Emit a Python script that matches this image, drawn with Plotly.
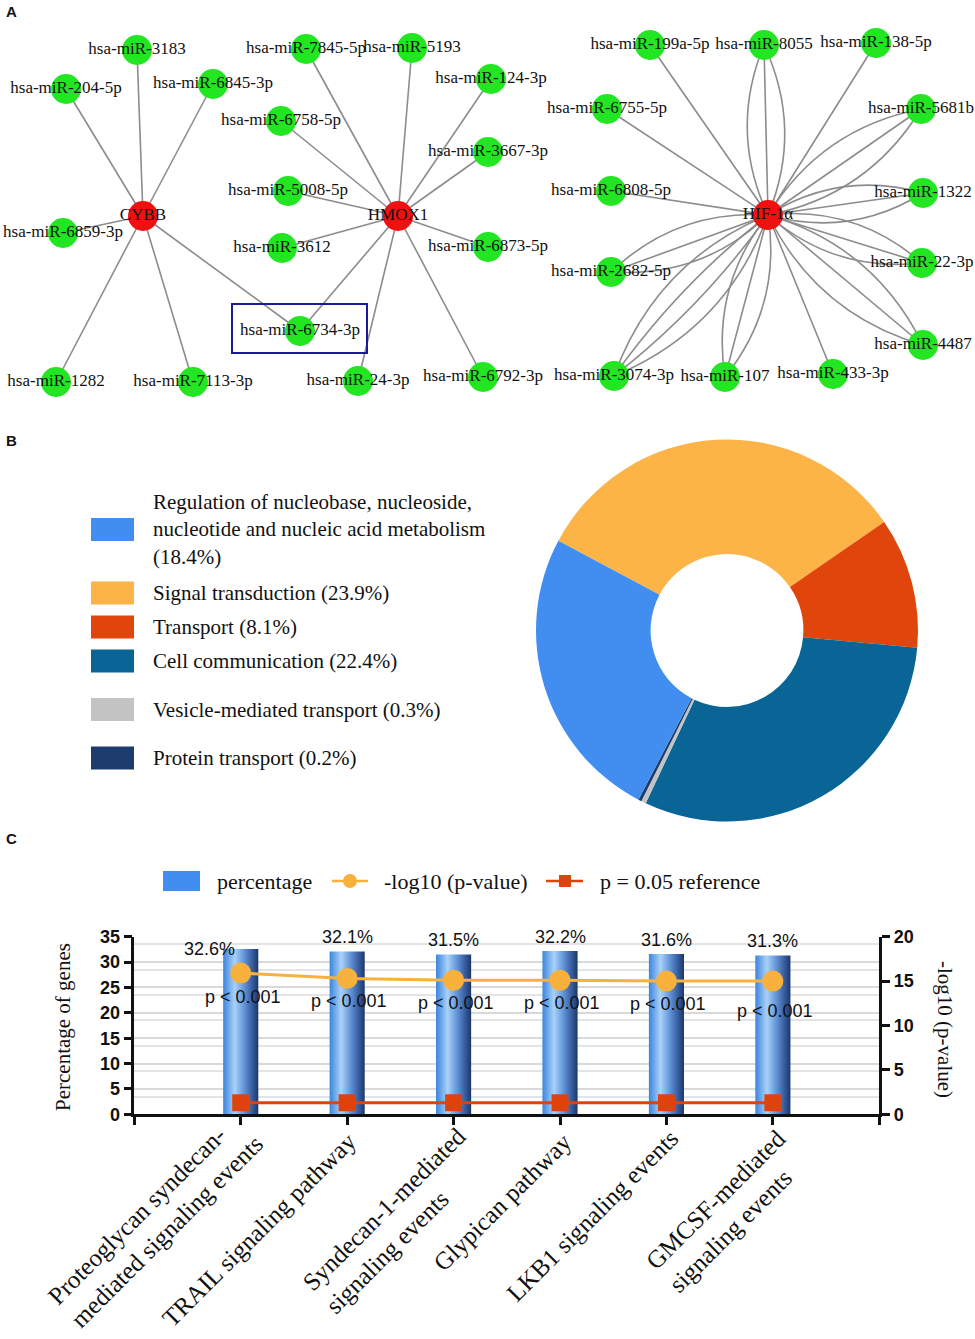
import math
import plotly.graph_objects as go

W, H = 975, 1339

# ---------------- Panel A: miRNA–mRNA network ----------------
hub_names = ["CYBB", "HMOX1", "HIF-1α"]
hub_x = [143, 398, 768]
hub_y = [216, 216, 215]

mirna_names = [
    "hsa-miR-3183", "hsa-miR-204-5p", "hsa-miR-6845-3p", "hsa-miR-6859-3p",
    "hsa-miR-1282", "hsa-miR-7113-3p", "hsa-miR-6734-3p",
    "hsa-miR-7845-5p", "hsa-miR-5193", "hsa-miR-124-3p", "hsa-miR-6758-5p",
    "hsa-miR-3667-3p", "hsa-miR-5008-5p", "hsa-miR-3612", "hsa-miR-6873-5p",
    "hsa-miR-24-3p", "hsa-miR-6792-3p",
    "hsa-miR-199a-5p", "hsa-miR-8055", "hsa-miR-138-5p", "hsa-miR-6755-5p",
    "hsa-miR-5681b", "hsa-miR-6808-5p", "hsa-miR-1322", "hsa-miR-2682-5p",
    "hsa-miR-22-3p", "hsa-miR-4487", "hsa-miR-3074-3p", "hsa-miR-107",
    "hsa-miR-433-3p",
]
mirna_x = [137, 66, 213, 63, 56, 193, 300,
           306, 412, 491, 281, 488, 288, 282, 488, 358, 483,
           650, 764, 876, 607, 921, 611, 923, 611, 922, 923, 614, 725, 833]
mirna_y = [50, 89, 84, 233, 382, 382, 331,
           49, 48, 79, 121, 152, 191, 248, 247, 381, 377,
           45, 45, 43, 109, 109, 191, 193, 272, 263, 345, 376, 377, 374]

# interactions: miRNA, target gene, number of interaction records
edge_mirna = [
    "hsa-miR-3183", "hsa-miR-204-5p", "hsa-miR-6845-3p", "hsa-miR-6859-3p",
    "hsa-miR-1282", "hsa-miR-7113-3p", "hsa-miR-6734-3p",
    "hsa-miR-7845-5p", "hsa-miR-5193", "hsa-miR-124-3p", "hsa-miR-6758-5p",
    "hsa-miR-3667-3p", "hsa-miR-5008-5p", "hsa-miR-3612", "hsa-miR-6873-5p",
    "hsa-miR-6734-3p", "hsa-miR-24-3p", "hsa-miR-6792-3p",
    "hsa-miR-199a-5p", "hsa-miR-8055", "hsa-miR-138-5p", "hsa-miR-6755-5p",
    "hsa-miR-5681b", "hsa-miR-6808-5p", "hsa-miR-1322", "hsa-miR-2682-5p",
    "hsa-miR-22-3p", "hsa-miR-4487", "hsa-miR-3074-3p", "hsa-miR-107",
    "hsa-miR-433-3p",
]
edge_hub = ["CYBB"] * 7 + ["HMOX1"] * 11 + ["HIF-1α"] * 13
edge_count = [1, 1, 1, 1, 1, 1, 1,
              1, 1, 1, 1, 1, 1, 1, 1, 1, 1, 1,
              1, 3, 1, 1, 3, 1, 3, 3, 3, 3, 4, 3, 1]
highlight_mirna = "hsa-miR-6734-3p"

# ---------------- Panel B: GO biological process donut ----------------
go_terms = ["Signal transduction", "Transport", "Cell communication",
            "Vesicle-mediated transport", "Protein transport",
            "Regulation of nucleobase, nucleoside, nucleotide and nucleic acid metabolism"]
go_pct = [23.9, 8.1, 22.4, 0.3, 0.2, 18.4]
go_colors = ["#fbb445", "#e0450b", "#086595", "#c4c4c4", "#1c3c6e", "#428ef0"]
legend_order = [5, 0, 1, 2, 3, 4]
legend_text = {
    5: "Regulation of nucleobase, nucleoside,<br>nucleotide and nucleic acid metabolism<br>(18.4%)",
}

# ---------------- Panel C: pathway enrichment ----------------
pathways = ["Proteoglycan syndecan-<br>mediated signaling events",
            "TRAIL signaling pathway",
            "Syndecan-1-mediated<br>signaling events",
            "Glypican pathway",
            "LKB1 signaling events",
            "GMCSF-mediated<br>signaling events"]
pct_genes = [32.6, 32.1, 31.5, 32.2, 31.6, 31.3]
neglog10_p = [15.9, 15.3, 15.1, 15.1, 15.0, 15.0]
p_text = ["p < 0.001"] * 6
ref_p = 0.05
left_ticks = [0, 5, 10, 15, 20, 25, 30, 35]
right_ticks = [0, 5, 10, 15, 20]

# ---------------- helpers / styles ----------------
SERIF = "Liberation Serif, Times New Roman, serif"
SANS = "Liberation Sans, Arial, sans-serif"


def px(x):
    return x / W


def py(y):
    return 1 - y / H


fig = go.Figure()
shapes = []
annotations = []

# ---- Panel A edges ----
name_to_xy = {n: (x, y) for n, x, y in zip(mirna_names, mirna_x, mirna_y)}
hub_to_xy = {n: (x, y) for n, x, y in zip(hub_names, hub_x, hub_y)}
for m, h, n in zip(edge_mirna, edge_hub, edge_count):
    x0, y0 = hub_to_xy[h]
    x1, y1 = name_to_xy[m]
    dx, dy = x1 - x0, y1 - y0
    L = (dx * dx + dy * dy) ** 0.5
    nx, ny = -dy / L, dx / L
    for k in range(n):
        t = 0 if n == 1 else (k - (n - 1) / 2) / ((n - 1) / 2)
        off = t * 0.22 * L
        if off == 0:
            shapes.append(dict(type="line", xref="x", yref="y", x0=x0, y0=y0, x1=x1, y1=y1,
                               line=dict(color="#8c8c8c", width=1.6), layer="below"))
        else:
            cx = (x0 + x1) / 2 + nx * off
            cy = (y0 + y1) / 2 + ny * off
            shapes.append(dict(type="path", xref="x", yref="y",
                               path=f"M {x0},{y0} Q {cx},{cy} {x1},{y1}",
                               line=dict(color="#8c8c8c", width=1.6), layer="below"))

# highlight box
hx, hy = name_to_xy[highlight_mirna]
shapes.append(dict(type="rect", xref="x", yref="y", x0=hx - 68, x1=hx + 67, y0=hy - 27, y1=hy + 22,
                   line=dict(color="#1a1a9a", width=2), fillcolor="rgba(0,0,0,0)"))

fig.add_trace(go.Scatter(
    x=mirna_x, y=mirna_y, text=mirna_names, mode="markers+text",
    textposition="middle center",
    marker=dict(size=30, color="#22e622", line=dict(width=0)),
    textfont=dict(family=SERIF, size=17, color="#111111"),
    xaxis="x", yaxis="y", hoverinfo="skip", showlegend=False, cliponaxis=False))
fig.add_trace(go.Scatter(
    x=hub_x, y=hub_y, text=hub_names, mode="markers+text",
    textposition="middle center",
    marker=dict(size=30, color="#f01010", line=dict(width=0)),
    textfont=dict(family=SERIF, size=17, color="#111111"),
    xaxis="x", yaxis="y", hoverinfo="skip", showlegend=False, cliponaxis=False))

# ---- Panel B donut ----
fig.add_trace(go.Pie(
    values=go_pct, labels=go_terms, sort=False, direction="clockwise", rotation=-62,
    hole=0.4, textinfo="none", hoverinfo="skip", showlegend=False,
    marker=dict(colors=go_colors, line=dict(width=0)),
    domain=dict(x=[px(536), px(918)], y=[py(822), py(439)])))

legend_rows_y = [529.5, 593, 627, 661, 709.5, 758]
for idx, yc in zip(legend_order, legend_rows_y):
    shapes.append(dict(type="rect", xref="paper", yref="paper",
                       x0=px(91), x1=px(134), y0=py(yc - 11.5), y1=py(yc + 11.5),
                       fillcolor=go_colors[idx], line=dict(width=0)))
    label = legend_text.get(idx, f"{go_terms[idx]} ({go_pct[idx]}%)")
    annotations.append(dict(text=label, xref="paper", yref="paper", x=px(151), y=py(yc),
                            xanchor="left", yanchor="middle", align="left", showarrow=False,
                            font=dict(family=SERIF, size=21, color="#111111")))

# ---- Panel C chart ----
cat_pos = list(range(1, len(pathways) + 1))
bw = 0.165
grad = [[0, "#3c84de"], [0.33, "#a9d1f8"], [0.55, "#6d9fe0"], [0.8, "#3b63a8"], [1, "#1d3767"]]
for c, v in zip(cat_pos, pct_genes):
    fig.add_trace(go.Scatter(
        x=[c - bw, c + bw, c + bw, c - bw, c - bw], y=[0, 0, v, v, 0],
        fill="toself", mode="lines", line=dict(width=0),
        fillgradient=dict(type="horizontal", colorscale=grad),
        xaxis="x2", yaxis="y2", hoverinfo="skip", showlegend=False))

ORANGE = "#f8b13c"
RED = "#e0420e"
ref_val = -math.log10(ref_p)
fig.add_trace(go.Scatter(
    x=cat_pos, y=neglog10_p, mode="lines+markers",
    line=dict(color=ORANGE, width=3), marker=dict(size=21, color=ORANGE),
    xaxis="x2", yaxis="y3", hoverinfo="skip", showlegend=False, cliponaxis=False))
fig.add_trace(go.Scatter(
    x=cat_pos, y=[ref_val] * len(cat_pos), mode="lines+markers",
    line=dict(color=RED, width=3), marker=dict(size=17, color=RED, symbol="square"),
    xaxis="x2", yaxis="y3", hoverinfo="skip", showlegend=False, cliponaxis=False))

pct_xshift = [-31, 0, 0, 0, 0, 0]
pct_yshift = [0, 14, 14, 14, 14, 14]
for c, v, xs, ys in zip(cat_pos, pct_genes, pct_xshift, pct_yshift):
    annotations.append(dict(text=f"{v}%", xref="x2", yref="y2", x=c, y=v, xshift=xs, yshift=ys,
                            xanchor="center", yanchor="middle", showarrow=False,
                            font=dict(family=SANS, size=18, color="#111111")))
p_yshift = [-24, -23, -23, -23, -23, -30]
for c, v, t, ys in zip(cat_pos, neglog10_p, p_text, p_yshift):
    annotations.append(dict(text=t, xref="x2", yref="y3", x=c, y=v, xshift=2, yshift=ys,
                            xanchor="center", yanchor="middle", showarrow=False,
                            font=dict(family=SANS, size=18, color="#111111")))

# rotated category labels: centre of each rotated text block relative to its tick
lab_xshift = [-85, -88, -58, -58, -74, -45]
lab_yshift = [-106, -115, -107, -88, -101, -97]
for c, t, xs, ys in zip(cat_pos, pathways, lab_xshift, lab_yshift):
    annotations.append(dict(text=t, xref="x2", yref="y2", x=c, y=0, xshift=xs, yshift=ys,
                            xanchor="center", yanchor="middle", align="left", textangle=-45,
                            showarrow=False,
                            font=dict(family=SERIF, size=25, color="#111111")))

# axis titles
annotations.append(dict(text="Percentage of genes", xref="paper", yref="paper",
                        x=px(63), y=py(1027), textangle=-90, showarrow=False,
                        xanchor="center", yanchor="middle",
                        font=dict(family=SERIF, size=21, color="#111111")))
annotations.append(dict(text="-log10 (p-value)", xref="paper", yref="paper",
                        x=px(945), y=py(1029), textangle=90, showarrow=False,
                        xanchor="center", yanchor="middle",
                        font=dict(family=SERIF, size=21, color="#111111")))

# Panel C legend
leg_y = 881
shapes.append(dict(type="rect", xref="paper", yref="paper", x0=px(163), x1=px(200),
                   y0=py(891), y1=py(871), fillcolor="#428ef0", line=dict(width=0)))
annotations.append(dict(text="percentage", xref="paper", yref="paper", x=px(215), y=py(leg_y),
                        xanchor="left", yanchor="middle", showarrow=False,
                        font=dict(family=SERIF, size=22, color="#111111")))
shapes.append(dict(type="line", xref="paper", yref="paper", x0=px(332), x1=px(368),
                   y0=py(leg_y), y1=py(leg_y), line=dict(color=ORANGE, width=2.5)))
shapes.append(dict(type="circle", xref="paper", yref="paper", x0=px(343), x1=px(357),
                   y0=py(leg_y + 7), y1=py(leg_y - 7), fillcolor=ORANGE, line=dict(width=0)))
annotations.append(dict(text="-log10 (p-value)", xref="paper", yref="paper", x=px(382), y=py(leg_y),
                        xanchor="left", yanchor="middle", showarrow=False,
                        font=dict(family=SERIF, size=22, color="#111111")))
shapes.append(dict(type="line", xref="paper", yref="paper", x0=px(546), x1=px(583),
                   y0=py(leg_y), y1=py(leg_y), line=dict(color=RED, width=2.5)))
shapes.append(dict(type="rect", xref="paper", yref="paper", x0=px(559), x1=px(571),
                   y0=py(leg_y + 6), y1=py(leg_y - 6), fillcolor=RED, line=dict(width=0)))
annotations.append(dict(text="p = 0.05 reference", xref="paper", yref="paper", x=px(598), y=py(leg_y),
                        xanchor="left", yanchor="middle", showarrow=False,
                        font=dict(family=SERIF, size=22, color="#111111")))

# panel letters
for letter, yy in zip(["A", "B", "C"], [12, 440, 839]):
    annotations.append(dict(text=f"<b>{letter}</b>", xref="paper", yref="paper", x=px(4), y=py(yy),
                            xanchor="left", yanchor="middle", showarrow=False,
                            font=dict(family=SANS, size=15, color="#111111")))

axis_common = dict(showline=True, linecolor="#111111", linewidth=2.5, ticks="outside",
                   ticklen=8, tickwidth=2.5, tickcolor="#111111", fixedrange=True,
                   zeroline=False, automargin=False)

fig.update_layout(
    template="none",
    width=W, height=H, autosize=False,
    margin=dict(l=0, r=0, t=0, b=0, pad=0, autoexpand=False),
    paper_bgcolor="white", plot_bgcolor="white", showlegend=False,
    shapes=shapes, annotations=annotations,
    xaxis=dict(domain=[0, 1], range=[0, W], visible=False, fixedrange=True, automargin=False),
    yaxis=dict(domain=[py(400), 1], range=[400, 0], visible=False, fixedrange=True,
               automargin=False),
    xaxis2=dict(domain=[px(134.3), px(879.3)], range=[0, 7], anchor="y2",
                tickvals=list(range(0, 8)), showticklabels=False, showgrid=False,
                **axis_common),
    yaxis2=dict(domain=[py(1114.3), py(936.7)], range=[0, 35], anchor="x2",
                tickvals=left_ticks, showgrid=True, gridcolor="#d9d9d9", gridwidth=1.5,
                minor=dict(tick0=3.5, dtick=5, showgrid=True, gridcolor="#e4e4e4",
                           gridwidth=1.5, ticks=""),
                tickfont=dict(family=SANS, size=18, color="#111111", weight="bold"),
                **axis_common),
    yaxis3=dict(domain=[py(1114.3), py(936.7)], range=[0, 20], anchor="x2",
                overlaying="y2", side="right", tickvals=right_ticks, showgrid=False,
                tickfont=dict(family=SANS, size=18, color="#111111", weight="bold"),
                **axis_common),
)

fig.write_html(
    "out.html",
    config={"displayModeBar": False, "responsive": False},
    post_script="document.body.style.margin='0px';document.body.style.overflow='hidden';",
)
